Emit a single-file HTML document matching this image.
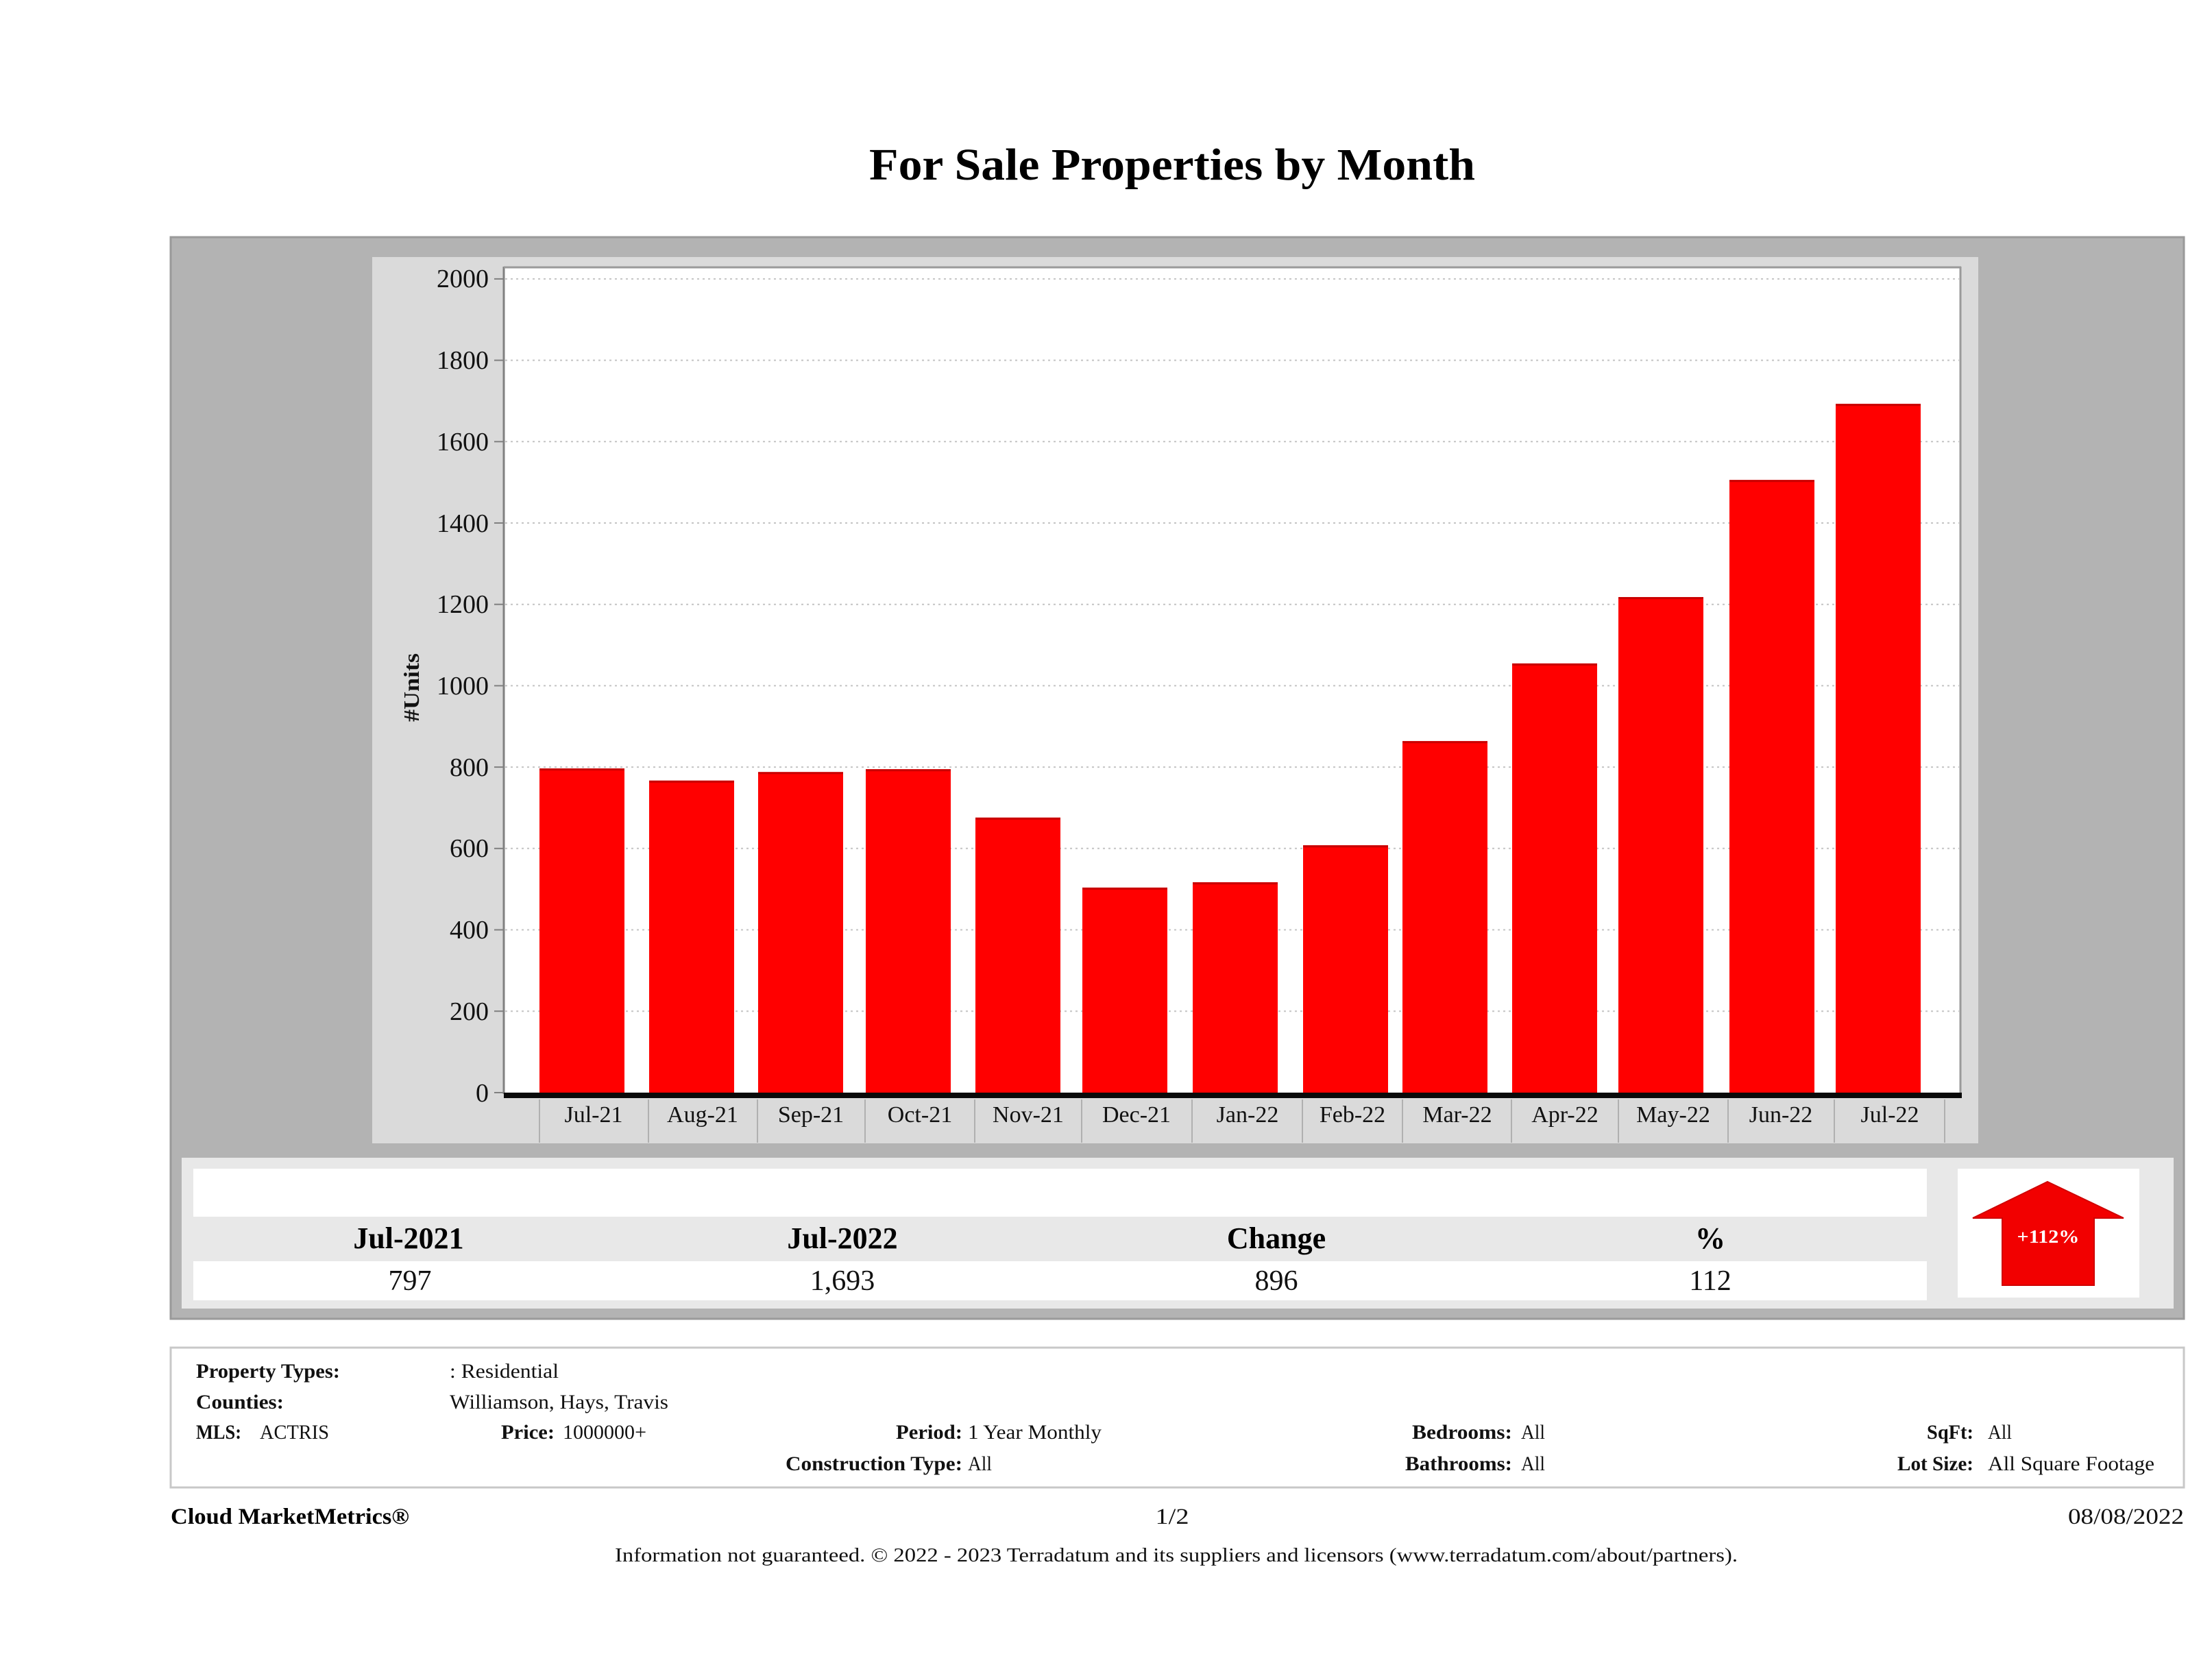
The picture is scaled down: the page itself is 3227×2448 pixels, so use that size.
<!DOCTYPE html>
<html>
<head>
<meta charset="utf-8">
<style>
  html, body { margin:0; padding:0; background:#ffffff; }
  svg { display:block; }
  text { font-family: "Liberation Serif", "DejaVu Serif", serif; }
</style>
</head>
<body>
<svg width="3227" height="2448" viewBox="0 0 3227 2448" xmlns="http://www.w3.org/2000/svg">
  <rect x="0" y="0" width="3227" height="2448" fill="#ffffff"/>

  <!-- Title -->
  <text x="1710" y="262" text-anchor="middle" font-size="66" font-weight="bold" fill="#000" textLength="884" lengthAdjust="spacingAndGlyphs">For Sale Properties by Month</text>

  <!-- Outer gray box -->
  <rect x="249" y="346" width="2937" height="1578" fill="#b3b3b3" stroke="#9a9a9a" stroke-width="3"/>

  <!-- Chart panel -->
  <rect x="543" y="375" width="2343" height="1293" fill="#dadada"/>

  <!-- Plot area -->
  <rect x="735" y="389" width="2125" height="1205" fill="#ffffff"/>

  <!-- Grid lines -->
  <g stroke="#c4c4c4" stroke-width="2" stroke-dasharray="3 5">
    <line x1="737" y1="406.9" x2="2858" y2="406.9"/>
    <line x1="737" y1="525.6" x2="2858" y2="525.6"/>
    <line x1="737" y1="644.3" x2="2858" y2="644.3"/>
    <line x1="737" y1="763.0" x2="2858" y2="763.0"/>
    <line x1="737" y1="881.7" x2="2858" y2="881.7"/>
    <line x1="737" y1="1000.4" x2="2858" y2="1000.4"/>
    <line x1="737" y1="1119.1" x2="2858" y2="1119.1"/>
    <line x1="737" y1="1237.8" x2="2858" y2="1237.8"/>
    <line x1="737" y1="1356.5" x2="2858" y2="1356.5"/>
    <line x1="737" y1="1475.2" x2="2858" y2="1475.2"/>
  </g>

  <!-- Plot frame -->
  <line x1="735" y1="389" x2="735" y2="1596" stroke="#808080" stroke-width="3"/>
  <line x1="735" y1="390" x2="2861" y2="390" stroke="#9a9a9a" stroke-width="3"/>
  <line x1="2860" y1="389" x2="2860" y2="1596" stroke="#9a9a9a" stroke-width="3"/>

  <!-- Y tick marks -->
  <g stroke="#808080" stroke-width="2">
    <line x1="721" y1="406.9" x2="735" y2="406.9"/>
    <line x1="721" y1="525.6" x2="735" y2="525.6"/>
    <line x1="721" y1="644.3" x2="735" y2="644.3"/>
    <line x1="721" y1="763.0" x2="735" y2="763.0"/>
    <line x1="721" y1="881.7" x2="735" y2="881.7"/>
    <line x1="721" y1="1000.4" x2="735" y2="1000.4"/>
    <line x1="721" y1="1119.1" x2="735" y2="1119.1"/>
    <line x1="721" y1="1237.8" x2="735" y2="1237.8"/>
    <line x1="721" y1="1356.5" x2="735" y2="1356.5"/>
    <line x1="721" y1="1475.2" x2="735" y2="1475.2"/>
    <line x1="721" y1="1594" x2="735" y2="1594"/>
  </g>

  <!-- Y labels -->
  <g font-size="38" fill="#111" text-anchor="end">
    <text x="713" y="419">2000</text>
    <text x="713" y="538">1800</text>
    <text x="713" y="657">1600</text>
    <text x="713" y="776">1400</text>
    <text x="713" y="894">1200</text>
    <text x="713" y="1013">1000</text>
    <text x="713" y="1132">800</text>
    <text x="713" y="1250">600</text>
    <text x="713" y="1369">400</text>
    <text x="713" y="1488">200</text>
    <text x="713" y="1607">0</text>
  </g>

  <!-- Y axis title -->
  <text x="0" y="0" transform="translate(611,1003) rotate(-90)" text-anchor="middle" font-size="32" font-weight="bold" fill="#111" textLength="100" lengthAdjust="spacingAndGlyphs">#Units</text>

  <!-- Bars -->
  <g fill="#ff0000">
    <rect x="787"  y="1121.0" width="124" height="473.0"/>
    <rect x="947"  y="1138.8" width="124" height="455.2"/>
    <rect x="1106" y="1126.3" width="124" height="467.7"/>
    <rect x="1263" y="1122.2" width="124" height="471.8"/>
    <rect x="1423" y="1192.8" width="124" height="401.2"/>
    <rect x="1579" y="1294.9" width="124" height="299.1"/>
    <rect x="1740" y="1287.2" width="124" height="306.8"/>
    <rect x="1901" y="1233.2" width="124" height="360.8"/>
    <rect x="2046" y="1081.2" width="124" height="512.8"/>
    <rect x="2206" y="967.9"  width="124" height="626.1"/>
    <rect x="2361" y="871.1"  width="124" height="722.9"/>
    <rect x="2523" y="700.2"  width="124" height="893.8"/>
    <rect x="2678" y="589.2"  width="124" height="1004.8"/>
  </g>
  <!-- darker top edges -->
  <g fill="#c80000">
    <rect x="787"  y="1121.0" width="124" height="3"/>
    <rect x="947"  y="1138.8" width="124" height="3"/>
    <rect x="1106" y="1126.3" width="124" height="3"/>
    <rect x="1263" y="1122.2" width="124" height="3"/>
    <rect x="1423" y="1192.8" width="124" height="3"/>
    <rect x="1579" y="1294.9" width="124" height="3"/>
    <rect x="1740" y="1287.2" width="124" height="3"/>
    <rect x="1901" y="1233.2" width="124" height="3"/>
    <rect x="2046" y="1081.2" width="124" height="3"/>
    <rect x="2206" y="967.9"  width="124" height="3"/>
    <rect x="2361" y="871.1"  width="124" height="3"/>
    <rect x="2523" y="700.2"  width="124" height="3"/>
    <rect x="2678" y="589.2"  width="124" height="3"/>
  </g>

  <!-- Zero axis line -->
  <rect x="735" y="1594" width="2127" height="8" fill="#0a0a0a"/>

  <!-- Category separators -->
  <g stroke="#b0b0b0" stroke-width="2">
    <line x1="787"  y1="1604" x2="787"  y2="1667"/>
    <line x1="946"  y1="1604" x2="946"  y2="1667"/>
    <line x1="1105" y1="1604" x2="1105" y2="1667"/>
    <line x1="1262" y1="1604" x2="1262" y2="1667"/>
    <line x1="1422" y1="1604" x2="1422" y2="1667"/>
    <line x1="1578" y1="1604" x2="1578" y2="1667"/>
    <line x1="1739" y1="1604" x2="1739" y2="1667"/>
    <line x1="1900" y1="1604" x2="1900" y2="1667"/>
    <line x1="2046" y1="1604" x2="2046" y2="1667"/>
    <line x1="2205" y1="1604" x2="2205" y2="1667"/>
    <line x1="2361" y1="1604" x2="2361" y2="1667"/>
    <line x1="2521" y1="1604" x2="2521" y2="1667"/>
    <line x1="2676" y1="1604" x2="2676" y2="1667"/>
    <line x1="2837" y1="1604" x2="2837" y2="1667"/>
  </g>

  <!-- X labels -->
  <g font-size="34" fill="#111" text-anchor="middle">
    <text x="866"  y="1637">Jul-21</text>
    <text x="1025" y="1637">Aug-21</text>
    <text x="1183" y="1637">Sep-21</text>
    <text x="1342" y="1637">Oct-21</text>
    <text x="1500" y="1637">Nov-21</text>
    <text x="1658" y="1637">Dec-21</text>
    <text x="1820" y="1637">Jan-22</text>
    <text x="1973" y="1637">Feb-22</text>
    <text x="2126" y="1637">Mar-22</text>
    <text x="2283" y="1637">Apr-22</text>
    <text x="2441" y="1637">May-22</text>
    <text x="2598" y="1637">Jun-22</text>
    <text x="2757" y="1637">Jul-22</text>
  </g>

  <!-- Stats panel -->
  <rect x="265" y="1689" width="2906" height="220" fill="#e8e8e8"/>
  <rect x="282" y="1705" width="2529" height="70" fill="#ffffff"/>
  <rect x="282" y="1840" width="2529" height="57" fill="#ffffff"/>
  <g font-size="44" font-weight="bold" fill="#000" text-anchor="middle">
    <text x="596"  y="1821">Jul-2021</text>
    <text x="1229" y="1821">Jul-2022</text>
    <text x="1862" y="1821">Change</text>
    <text x="2495" y="1821">%</text>
  </g>
  <g font-size="42" fill="#111" text-anchor="middle">
    <text x="598"  y="1882">797</text>
    <text x="1229" y="1882">1,693</text>
    <text x="1862" y="1882">896</text>
    <text x="2495" y="1882">112</text>
  </g>

  <!-- Arrow box -->
  <rect x="2856" y="1705" width="265" height="188" fill="#ffffff"/>
  <polygon points="2987,1724 3098,1777 3055,1777 3055,1875 2921,1875 2921,1777 2878,1777" fill="#f20000" stroke="#d00000" stroke-width="2"/>
  <text x="2988" y="1813" text-anchor="middle" font-size="27" font-weight="bold" fill="#ffffff" textLength="91" lengthAdjust="spacingAndGlyphs">+112%</text>

  <!-- Footer criteria box -->
  <rect x="249" y="1966" width="2937" height="204" fill="#ffffff" stroke="#c8c8c8" stroke-width="3"/>
  <g font-size="30" fill="#111">
    <text x="286" y="2010" font-weight="bold" textLength="210" lengthAdjust="spacingAndGlyphs">Property Types:</text>
    <text x="656" y="2010" textLength="159" lengthAdjust="spacingAndGlyphs">: Residential</text>

    <text x="286" y="2055" font-weight="bold" textLength="128" lengthAdjust="spacingAndGlyphs">Counties:</text>
    <text x="656" y="2055" textLength="319" lengthAdjust="spacingAndGlyphs">Williamson, Hays, Travis</text>

    <text x="286" y="2099" font-weight="bold" textLength="66" lengthAdjust="spacingAndGlyphs">MLS:</text>
    <text x="379" y="2099" textLength="101" lengthAdjust="spacingAndGlyphs">ACTRIS</text>

    <text x="731" y="2099" font-weight="bold" textLength="78" lengthAdjust="spacingAndGlyphs">Price:</text>
    <text x="821" y="2099" textLength="122" lengthAdjust="spacingAndGlyphs">1000000+</text>

    <text x="1404" y="2099" font-weight="bold" text-anchor="end" textLength="97" lengthAdjust="spacingAndGlyphs">Period:</text>
    <text x="1412" y="2099" textLength="195" lengthAdjust="spacingAndGlyphs">1 Year Monthly</text>

    <text x="1404" y="2145" font-weight="bold" text-anchor="end" textLength="258" lengthAdjust="spacingAndGlyphs">Construction Type:</text>
    <text x="1412" y="2145" textLength="35" lengthAdjust="spacingAndGlyphs">All</text>

    <text x="2206" y="2099" font-weight="bold" text-anchor="end" textLength="146" lengthAdjust="spacingAndGlyphs">Bedrooms:</text>
    <text x="2219" y="2099" textLength="35" lengthAdjust="spacingAndGlyphs">All</text>

    <text x="2206" y="2145" font-weight="bold" text-anchor="end" textLength="156" lengthAdjust="spacingAndGlyphs">Bathrooms:</text>
    <text x="2219" y="2145" textLength="35" lengthAdjust="spacingAndGlyphs">All</text>

    <text x="2879" y="2099" font-weight="bold" text-anchor="end" textLength="68" lengthAdjust="spacingAndGlyphs">SqFt:</text>
    <text x="2900" y="2099" textLength="35" lengthAdjust="spacingAndGlyphs">All</text>

    <text x="2879" y="2145" font-weight="bold" text-anchor="end" textLength="111" lengthAdjust="spacingAndGlyphs">Lot Size:</text>
    <text x="2900" y="2145" textLength="243" lengthAdjust="spacingAndGlyphs">All Square Footage</text>
  </g>

  <!-- Page footer -->
  <text x="249" y="2223" font-size="33" font-weight="bold" fill="#000" textLength="348" lengthAdjust="spacingAndGlyphs">Cloud MarketMetrics®</text>
  <text x="1710" y="2223" font-size="33" fill="#111" text-anchor="middle" textLength="49" lengthAdjust="spacingAndGlyphs">1/2</text>
  <text x="3186" y="2223" font-size="33" fill="#111" text-anchor="end" textLength="169" lengthAdjust="spacingAndGlyphs">08/08/2022</text>
  <text x="1716" y="2278" font-size="29" fill="#111" text-anchor="middle" textLength="1638" lengthAdjust="spacingAndGlyphs">Information not guaranteed. © 2022 - 2023 Terradatum and its suppliers and licensors (www.terradatum.com/about/partners).</text>
</svg>
</body>
</html>
